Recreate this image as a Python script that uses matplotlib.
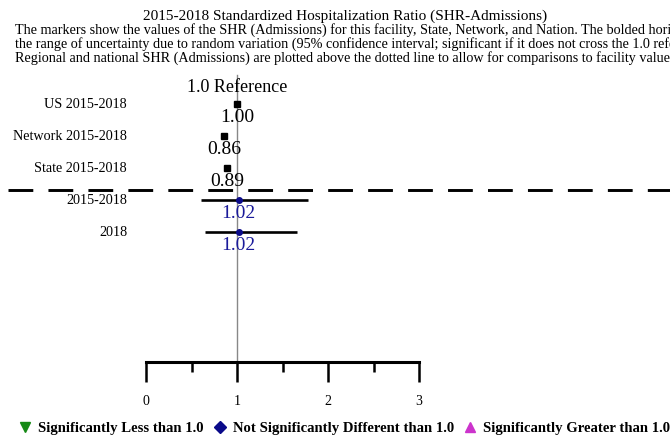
import matplotlib
matplotlib.use("Agg")
import matplotlib.pyplot as plt
from matplotlib.lines import Line2D

plt.rcParams['font.family'] = ['Liberation Serif', 'DejaVu Serif']

# ---- data ----
ref_labels = ["US 2015-2018", "Network 2015-2018", "State 2015-2018"]
ref_values = [1.00, 0.86, 0.89]
fac_labels = ["2015-2018", "2018"]
fac_values = [1.02, 1.02]
fac_lower = [0.60, 0.65]
fac_upper = [1.78, 1.66]
x_ticks = [0, 1, 2, 3]
x_minor = [0.5, 1.5, 2.5]
legend_labels = ["Significantly Less than 1.0", "Not Significantly Different than 1.0",
                 "Significantly Greater than 1.0"]
legend_colors = ["#168a16", "#0a0a8a", "#cc33cc"]
legend_markers = ["v", "D", "^"]

title = "2015-2018 Standardized Hospitalization Ratio (SHR-Admissions)"
subtitle = [
    "The markers show the values of the SHR (Admissions) for this facility, State, Network, and Nation. The bolded horizontal lines show",
    "the range of uncertainty due to random variation (95% confidence interval; significant if it does not cross the 1.0 reference line).",
    "Regional and national SHR (Admissions) are plotted above the dotted line to allow for comparisons to facility values.",
]

W, H = 670, 440
fig = plt.figure(figsize=(W / 100, H / 100), dpi=100)
axis_px = 362
ax = fig.add_axes([0, (H - axis_px) / H, 1, axis_px / H])
x0_px, unit_px = 146, 91
ax.set_xlim(-x0_px / unit_px, (W - x0_px) / unit_px)
row0_px, row_px = 104, 32
ax.set_ylim((axis_px - row0_px) / row_px, -row0_px / row_px)
ax.patch.set_visible(False)
for s in ['top', 'left', 'right']:
    ax.spines[s].set_visible(False)
ax.spines['bottom'].set_bounds(0, 3)
ax.spines['bottom'].set_linewidth(2.2)
ax.set_yticks([])
ax.set_xticks(x_ticks)
ax.set_xticklabels([str(t) for t in x_ticks], fontsize=10)
ax.set_xticks(x_minor, minor=True)
ax.tick_params(axis='x', which='major', direction='out', length=14.5, width=1.8, pad=9)
ax.tick_params(axis='x', which='minor', direction='out', length=7.5, width=1.8)

# reference line
ax.axvline(1, ymin=0, ymax=(axis_px - 75) / axis_px, color='#888888', lw=1, zorder=1)
ax.text(1, (87 - row0_px) / row_px, "1.0 Reference", ha='center', va='center', fontsize=13)

lab_x = (127 - x0_px) / unit_px
off = 0.43
for i, (lab, v) in enumerate(zip(ref_labels, ref_values)):
    ax.plot(v, i, marker='s', color='black', ms=5, zorder=3)
    ax.text(lab_x, i, lab, ha='right', va='center', fontsize=10.2)
    ax.text(v, i + off, f"{v:.2f}", ha='center', va='center', fontsize=14, zorder=4)

n_ref = len(ref_labels)
ax.axhline(n_ref - 1 + 22 / row_px, xmin=8 / W, xmax=1, color='black', lw=2.1,
           dashes=(8.5, 5.2))

for j, (lab, v, lo, hi) in enumerate(zip(fac_labels, fac_values, fac_lower, fac_upper)):
    y = n_ref + j
    ax.plot([lo, hi], [y, y], color='black', lw=1.9, solid_capstyle='butt', zorder=2)
    ax.plot(v, y, marker='o', color='#0a0a8a', ms=4, zorder=3)
    ax.text(lab_x, y, lab, ha='right', va='center', fontsize=10.2)
    ax.text(v, y + off, f"{v:.2f}", ha='center', va='center', fontsize=14,
            color='#1a1a9a', zorder=4)

fig.text(345 / W, 1 - 16 / H, title, ha='center', va='center', fontsize=11)
for k, line in enumerate(subtitle):
    fig.text(15 / W, 1 - (30 + 14 * k) / H, line, ha='left', va='center', fontsize=10.2)

handles = [Line2D([], [], ls='none', marker=m, color=c, ms=7) for m, c in
           zip(legend_markers, legend_colors)]
handles[1].set_markersize(6)
fig.legend(handles, legend_labels, loc='center', bbox_to_anchor=(344 / W, 1 - 428 / H),
           ncol=3, frameon=False, prop={'weight': 'bold', 'size': 10.6},
           handlelength=1.0, handletextpad=0.4, columnspacing=0.58, borderaxespad=0)

fig.savefig("out.png", dpi=100)
